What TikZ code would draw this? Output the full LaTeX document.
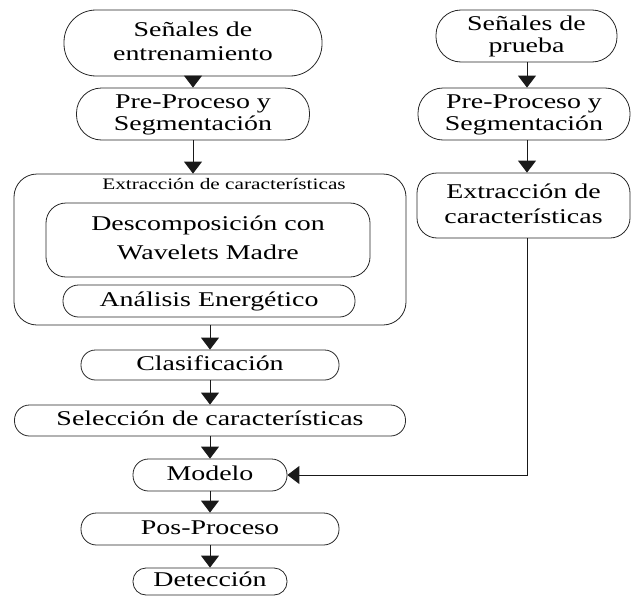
\documentclass[tikz,border=0pt]{standalone}
\usepackage{fontspec}
\usepackage{graphicx}
\setmainfont{Liberation Serif}
\usetikzlibrary{arrows.meta}
\newcommand\wt[1]{\scalebox{1.33}[1]{\begin{tabular}{@{}c@{}}#1\end{tabular}}}
\begin{document}
\begin{tikzpicture}[x=1pt,y=-1pt,
  proc/.style={draw=black!85, line width=0.8pt, inner sep=0pt, align=center, font=\fontsize{21}{25}\selectfont},
  arr/.style={draw=black!90, line width=0.9pt, -{Triangle[width=18pt,length=12pt]}},
  lbl/.style={inner sep=0pt, font=\fontsize{16}{18}\selectfont}]
\useasboundingbox (0,0) rectangle (632,597);
% left column
\node[proc, minimum width=258pt, minimum height=66pt, rounded corners=32pt] (n1) at (193,43) {\wt{Señales de\\[-1pt]entrenamiento}};
\node[proc, minimum width=233pt, minimum height=52pt, rounded corners=25pt] (n2) at (193,114) {\wt{Pre-Proceso y\\[-3pt]Segmentación}};
\node[draw=black!85, line width=0.8pt, inner sep=0pt, minimum width=392pt, minimum height=151pt, rounded corners=23pt] (ext) at (210,249.5) {};
\node[lbl] (lab) at (224,186) {\wt{Extracción de características}};
\node[proc, minimum width=324pt, minimum height=74pt, rounded corners=20pt] (dec) at (208,240) {\wt{Descomposición con\\[4pt]Wavelets Madre}};
\node[proc, minimum width=292pt, minimum height=32pt, rounded corners=15.5pt] (ana) at (209,301) {\wt{Análisis Energético}};
\node[proc, minimum width=258pt, minimum height=30pt, rounded corners=14.5pt] (cla) at (210,365) {\wt{Clasificación}};
\node[proc, minimum width=391pt, minimum height=31pt, rounded corners=15pt] (sel) at (210,420.5) {\wt{Selección de características}};
\node[proc, minimum width=154pt, minimum height=32pt, rounded corners=15.5pt] (mod) at (210,475) {\wt{Modelo}};
\node[proc, minimum width=258pt, minimum height=32pt, rounded corners=15.5pt] (pos) at (210,529) {\wt{Pos-Proceso}};
\node[proc, minimum width=154pt, minimum height=27pt, rounded corners=13pt] (det) at (210,581.5) {\wt{Detección}};
% right column
\node[proc, minimum width=181pt, minimum height=52pt, rounded corners=25pt] (r1) at (526.5,36) {\wt{Señales de\\[-3pt]prueba}};
\node[proc, minimum width=212pt, minimum height=52pt, rounded corners=25pt] (r2) at (524,114) {\wt{Pre-Proceso y\\[-3pt]Segmentación}};
\node[proc, minimum width=213pt, minimum height=65pt, rounded corners=20pt] (r3) at (523.5,205.5) {\wt{Extracción de\\[0pt]características}};
% connectors
\draw[arr] (n1.south) -- (n1.south |- n2.north);
\draw[arr] (n2.south) -- (n2.south |- ext.north);
\draw[arr] (ext.south) -- (cla.north);
\draw[arr] (cla.south) -- (sel.north);
\draw[arr] (sel.south) -- (mod.north);
\draw[arr] (mod.south) -- (pos.north);
\draw[arr] (pos.south) -- (det.north);
\coordinate (rx) at (527,0);
\draw[arr] (rx |- r1.south) -- (rx |- r2.north);
\draw[arr] (rx |- r2.south) -- (rx |- r3.north);
\draw[arr] (rx |- r3.south) |- (mod.east);
\end{tikzpicture}
\end{document}
